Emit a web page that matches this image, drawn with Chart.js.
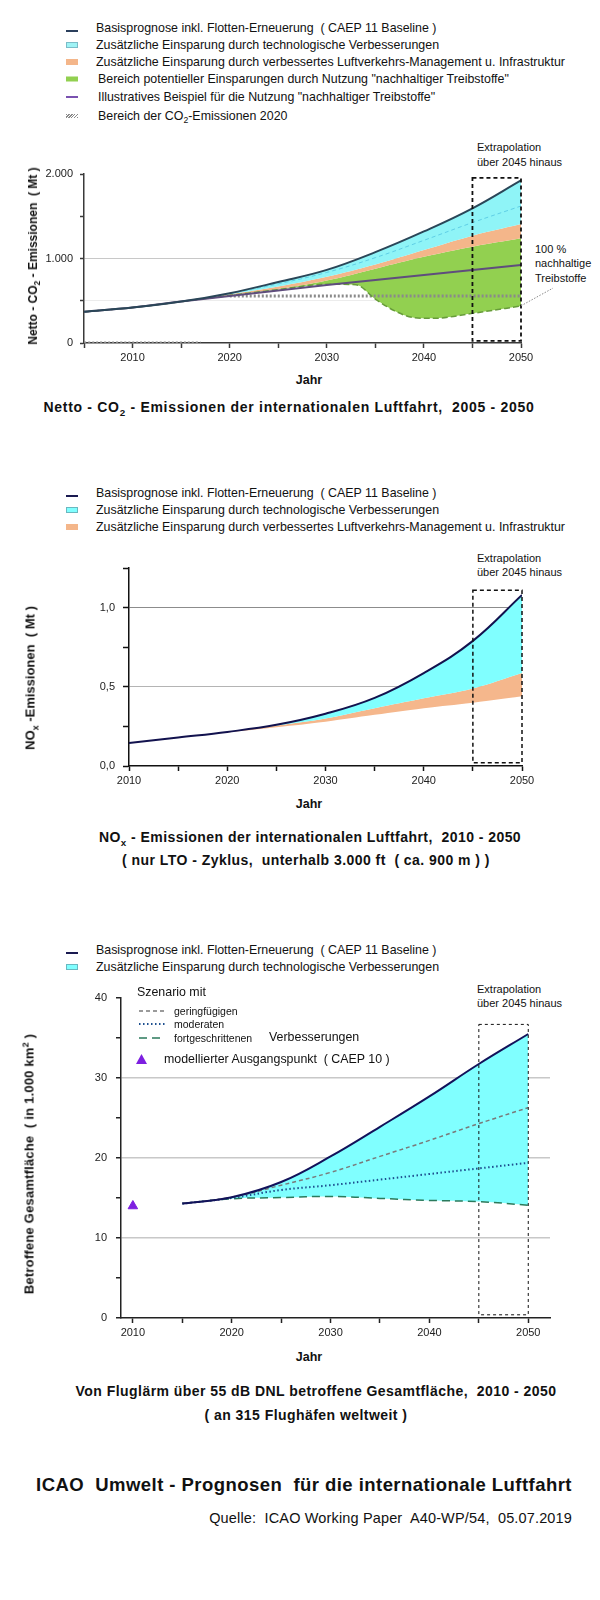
<!DOCTYPE html>
<html>
<head>
<meta charset="utf-8">
<script src="https://cdn.jsdelivr.net/npm/chart.js@4.4.1/dist/chart.umd.min.js"></script>
<style>
  body { margin: 0; width: 600px; height: 1600px; position: relative; background: #fff;
         font-family: 'Liberation Sans', Arial, sans-serif; color: #111; overflow: hidden; }
  .t { position: absolute; white-space: pre; line-height: 1; }
  .c { transform: translate(-50%, -50%); }
  .l { transform: translateY(-50%); }
  .r { transform: translate(-100%, -50%); }
  .b { font-weight: bold; }
  .leg { font-size: 12.4px; }
  .sm { font-size: 11px; }
  .ttl { font-size: 14px; font-weight: bold; letter-spacing: 0.45px; }
  .yt { font-size: 13px; font-weight: bold; transform: translate(-50%, -50%) rotate(-90deg); }
  .sym { position: absolute; width: 12px; transform: translateY(-50%); }
  canvas { position: absolute; left: 0; }
  sub, sup { font-size: 70%; line-height: 0; }
</style>
</head>
<body>

<!-- CO2 legend -->
<div class="sym" style="left:66px; top:31px; height:2px; background:#2b3f5c;"></div>
<div class="t l leg" style="left:96px; top:28px;">Basisprognose inkl. Flotten-Erneuerung  ( CAEP 11 Baseline )</div>
<div class="sym" style="left:66px; top:45px; height:6px; background:#9ff3f5; border:1px solid #7bbcc8; box-sizing:border-box;"></div>
<div class="t l leg" style="left:96px; top:45px;">Zusätzliche Einsparung durch technologische Verbesserungen</div>
<div class="sym" style="left:66px; top:62px; height:6px; background:#f4b68a;"></div>
<div class="t l leg" style="left:96px; top:62px;">Zusätzliche Einsparung durch verbessertes Luftverkehrs-Management u. Infrastruktur</div>
<div class="sym" style="left:66px; top:79px; height:5px; background:#92d050;"></div>
<div class="t l leg" style="left:98px; top:79px;">Bereich potentieller Einsparungen durch Nutzung "nachhaltiger Treibstoffe"</div>
<div class="sym" style="left:66px; top:97px; height:2px; background:#7a52b0;"></div>
<div class="t l leg" style="left:98px; top:97px;">Illustratives Beispiel für die Nutzung "nachhaltiger Treibstoffe"</div>
<div class="sym" style="left:66px; top:116px; height:4px; background:repeating-linear-gradient(135deg,#8a8a8a 0 1px,#fff 1px 2px);"></div>
<div class="t l leg" style="left:98px; top:116px;">Bereich der CO<sub>2</sub>-Emissionen 2020</div>

<div class="t l sm" style="left:477px; top:147px;">Extrapolation</div>
<div class="t l sm" style="left:477px; top:162px;">über 2045 hinaus</div>
<div class="t l sm" style="left:535px; top:249px;">100 %</div>
<div class="t l sm" style="left:535px; top:263px;">nachhaltige</div>
<div class="t l sm" style="left:535px; top:278px;">Treibstoffe</div>

<canvas id="co2Chart" width="600" height="215" style="top:150px;"></canvas>
<div class="t yt" style="left:33px; top:256px; font-size:12px;">Netto - CO<sub>2</sub> - Emissionen  ( Mt )</div>
<div class="t c b" style="left:309px; top:380px; font-size:12.5px;">Jahr</div>
<div class="t c ttl" style="left:289px; top:407px; letter-spacing:0.7px;">Netto - CO<sub>2</sub> - Emissionen der internationalen Luftfahrt,  2005 - 2050</div>

<!-- NOx legend -->
<div class="sym" style="left:66px; top:496px; height:2px; background:#1a1a50;"></div>
<div class="t l leg" style="left:96px; top:493px;">Basisprognose inkl. Flotten-Erneuerung  ( CAEP 11 Baseline )</div>
<div class="sym" style="left:66px; top:510px; height:6px; background:#80ffff; border:1px solid #6ab8c0; box-sizing:border-box;"></div>
<div class="t l leg" style="left:96px; top:510px;">Zusätzliche Einsparung durch technologische Verbesserungen</div>
<div class="sym" style="left:66px; top:527px; height:6px; background:#f4b68a;"></div>
<div class="t l leg" style="left:96px; top:527px;">Zusätzliche Einsparung durch verbessertes Luftverkehrs-Management u. Infrastruktur</div>

<div class="t l sm" style="left:477px; top:558px;">Extrapolation</div>
<div class="t l sm" style="left:477px; top:572px;">über 2045 hinaus</div>

<canvas id="noxChart" width="600" height="245" style="top:550px;"></canvas>
<div class="t yt" style="left:30px; top:678px;">NO<sub>x</sub> -Emissionen  ( Mt )</div>
<div class="t c b" style="left:309px; top:804px; font-size:12.5px;">Jahr</div>
<div class="t c ttl" style="left:310px; top:837px;">NO<sub>x</sub> - Emissionen der internationalen Luftfahrt,  2010 - 2050</div>
<div class="t c ttl" style="left:306px; top:860px;">( nur LTO - Zyklus,  unterhalb 3.000 ft  ( ca. 900 m ) )</div>

<!-- Noise legend -->
<div class="sym" style="left:66px; top:953px; height:2px; background:#1a1a50;"></div>
<div class="t l leg" style="left:96px; top:950px;">Basisprognose inkl. Flotten-Erneuerung  ( CAEP 11 Baseline )</div>
<div class="sym" style="left:66px; top:967px; height:6px; background:#80ffff; border:1px solid #6ab8c0; box-sizing:border-box;"></div>
<div class="t l leg" style="left:96px; top:967px;">Zusätzliche Einsparung durch technologische Verbesserungen</div>

<div class="t l sm" style="left:477px; top:989px;">Extrapolation</div>
<div class="t l sm" style="left:477px; top:1003px;">über 2045 hinaus</div>

<canvas id="noiseChart" width="600" height="365" style="top:980px;"></canvas>
<div class="t l leg" style="left:137px; top:992px;">Szenario mit</div>
<svg style="position:absolute; left:139px; top:1005px;" width="28" height="40">
  <line x1="0" y1="6" x2="26" y2="6" stroke="#7a7a7a" stroke-width="1.5" stroke-dasharray="4 3"/>
  <line x1="0" y1="19" x2="26" y2="19" stroke="#1d4f8f" stroke-width="2" stroke-dasharray="1.5 2.5"/>
  <line x1="0" y1="33" x2="26" y2="33" stroke="#2b7a5c" stroke-width="1.5" stroke-dasharray="8 5"/>
</svg>
<div class="t l" style="left:174px; top:1011px; font-size:10.5px;">geringfügigen</div>
<div class="t l" style="left:174px; top:1024px; font-size:10.5px;">moderaten</div>
<div class="t l" style="left:174px; top:1038px; font-size:10.5px;">fortgeschrittenen</div>
<div class="t l leg" style="left:269px; top:1037px;">Verbesserungen</div>
<svg style="position:absolute; left:135px; top:1053px;" width="13" height="12">
  <polygon points="6.5,1 12,11 1,11" fill="#7d1fe0"/>
</svg>
<div class="t l leg" style="left:164px; top:1059px;">modellierter Ausgangspunkt  ( CAEP 10 )</div>
<div class="t yt" style="left:29px; top:1164px; letter-spacing:0.2px;">Betroffene Gesamtfläche  ( in 1.000 km<sup>2</sup> )</div>
<div class="t c b" style="left:309px; top:1357px; font-size:12.5px;">Jahr</div>
<div class="t c ttl" style="left:316px; top:1391px;">Von Fluglärm über 55 dB DNL betroffene Gesamtfläche,  2010 - 2050</div>
<div class="t c ttl" style="left:306px; top:1415px;">( an 315 Flughäfen weltweit )</div>

<div class="t c b" style="left:304px; top:1485px; font-size:18.5px; letter-spacing:0.45px;">ICAO  Umwelt - Prognosen  für die internationale Luftfahrt</div>
<div class="t r" style="left:572px; top:1518px; font-size:14.5px; letter-spacing:0.15px;">Quelle:  ICAO Working Paper  A40-WP/54,  05.07.2019</div>

<script>
// CO2 (Mt)
const co2Years = [2005, 2010, 2015, 2020, 2025, 2030, 2035, 2040, 2045, 2050];
const co2Baseline = [370, 420, 490, 590, 722, 865, 1075, 1320, 1594, 1925];
const co2Tech = [370, 420, 490, 578, 670, 785, 930, 1100, 1270, 1408];
const co2Ops = [370, 420, 490, 568, 640, 740, 880, 1020, 1140, 1239];
const co2Saf = [370, 420, 490, 556, 622, 686, 745, 805, 864, 923];
const co2SafMinYears = [2005, 2010, 2015, 2020, 2025, 2030, 2033, 2035, 2037, 2039, 2041, 2045, 2050];
const co2SafMin = [370, 420, 490, 562, 632, 695, 690, 520, 380, 300, 292, 351, 438];
const co2TechDashYears = [2020, 2025, 2030, 2035, 2040, 2045, 2050];
const co2TechDash = [584, 700, 835, 1010, 1215, 1425, 1621];
const co2Level2020Years = [2020, 2050];
const co2Level2020 = [555, 555];
const co2ZeroYears = [2005, 2017];
const co2Zero = [0, 0];

// NOx (Mt)
const noxYears = [2010, 2015, 2020, 2025, 2030, 2035, 2040, 2045, 2050];
const noxBaseline = [0.145, 0.18, 0.215, 0.26, 0.33, 0.43, 0.587, 0.79, 1.08];
const noxTech = [0.145, 0.18, 0.214, 0.255, 0.30, 0.365, 0.428, 0.49, 0.587];
const noxOps = [0.145, 0.18, 0.212, 0.245, 0.28, 0.323, 0.365, 0.40, 0.44];

// Noise (1.000 km2)
const noiseYears = [2015, 2020, 2025, 2030, 2035, 2040, 2045, 2050];
const noiseBaseline = [14.3, 15.1, 17.0, 20.2, 23.9, 27.7, 31.75, 35.5];
const noiseLow = [14.3, 15.1, 16.6, 18.2, 20.2, 22.2, 24.3, 26.3];
const noiseModerate = [14.3, 15.0, 16.0, 16.6, 17.3, 18.0, 18.7, 19.4];
const noiseAdvanced = [14.3, 14.9, 15.05, 15.2, 14.95, 14.7, 14.55, 14.1];
const noiseStartYears = [2010];
const noiseStart = [14.0];

// ticks
const co2XTicks = [2005, 2010, 2015, 2020, 2025, 2030, 2035, 2040, 2045, 2050];
const noxXTicks = [2010, 2015, 2020, 2025, 2030, 2035, 2040, 2045, 2050];
const xTickLabels = [2010, 2020, 2030, 2040, 2050];
const co2YTicks = [0, 500, 1000, 1500, 2000];
const co2YLabels = { 0: '0', 1000: '1.000', 2000: '2.000' };
const noxYTicks = [0, 0.25, 0.5, 0.75, 1, 1.25];
const noxYLabels = { 0: '0,0', 0.5: '0,5', 1: '1,0' };
const noiseYTicks = [0, 5, 10, 15, 20, 25, 30, 35, 40];
const noiseYLabels = { 0: '0', 10: '10', 20: '20', 30: '30', 40: '40' };

// extrapolation boxes [x0, x1, y0, y1]
const co2Box = [2045, 2050, 24, 1953];
const noxBox = [2045, 2050, 0.02, 1.11];
const noiseBox = [2045, 2050, 0.4, 36.7];

Chart.defaults.font.family = "'Liberation Sans', Arial, sans-serif";
Chart.defaults.color = '#222';

function xy(xs, ys) {
    return xs.map((x, i) => ({ x: x, y: ys[i] }));
}

const boxPlugin = {
    id: 'extrapolationBox',
    afterDatasetsDraw(chart, args, opts) {
        const ctx = chart.ctx;
        const xs = chart.scales.x, ys = chart.scales.y;
        const b = opts.box;
        const l = xs.getPixelForValue(b[0]), r = xs.getPixelForValue(b[1]);
        const t = ys.getPixelForValue(b[3]), bt = ys.getPixelForValue(b[2]);
        ctx.save();
        ctx.strokeStyle = '#111';
        ctx.lineWidth = opts.width;
        ctx.setLineDash(opts.dash);
        ctx.strokeRect(l, t, r - l, bt - t);
        if (opts.leader) {
            // dotted pointer from the label to the 100 % line
            const p = opts.leader;
            ctx.strokeStyle = '#888';
            ctx.lineWidth = 1;
            ctx.setLineDash([1.5, 1.5]);
            ctx.beginPath();
            ctx.moveTo(xs.getPixelForValue(p[0]), ys.getPixelForValue(p[1]));
            ctx.lineTo(xs.getPixelForValue(p[2]), ys.getPixelForValue(p[3]));
            ctx.stroke();
        }
        ctx.restore();
    }
};

function chartOptions(cfg) {
    return {
        responsive: false,
        animation: false,
        events: [],
        layout: { padding: { left: 0, right: cfg.padRight, top: cfg.padTop, bottom: 0 } },
        plugins: {
            legend: { display: false },
            tooltip: { enabled: false },
            filler: { drawTime: 'beforeDatasetsDraw' },
            extrapolationBox: cfg.box
        },
        elements: {
            point: { radius: 0 },
            line: { tension: 0.4, borderCapStyle: 'butt' }
        },
        scales: {
            x: {
                type: 'linear',
                min: cfg.xMin,
                max: cfg.xMax,
                afterBuildTicks: s => { s.ticks = cfg.xTicks.map(v => ({ value: v })); },
                afterFit: s => { s.height = cfg.xHeight; },
                grid: { drawOnChartArea: false, tickLength: 5, tickColor: cfg.axisColor, tickWidth: 1.5 },
                border: { color: cfg.axisColor, width: 1.5 },
                ticks: {
                    font: { size: 11 }, padding: 3, maxRotation: 0, autoSkip: false,
                    callback: v => xTickLabels.includes(v) ? String(v) : ''
                }
            },
            y: {
                type: 'linear',
                min: 0,
                max: cfg.yMax,
                afterBuildTicks: s => { s.ticks = cfg.yTicks.map(v => ({ value: v })); },
                afterFit: s => { s.width = cfg.yWidth; },
                grid: {
                    color: c => (c.tick && cfg.grid[c.tick.value]) || 'rgba(0,0,0,0)',
                    lineWidth: cfg.gridWidth,
                    tickLength: cfg.yTickLen, tickColor: cfg.axisColor, tickWidth: 1.5
                },
                border: { color: cfg.axisColor, width: 1.5 },
                ticks: {
                    font: { size: 11 }, padding: cfg.yPad, autoSkip: false,
                    callback: v => cfg.yLabels[v] || ''
                }
            }
        }
    };
}

new Chart(document.getElementById('co2Chart'), {
    type: 'line',
    plugins: [boxPlugin],
    data: {
        datasets: [
            { data: xy(co2Years, co2Baseline), borderColor: '#2a4658', borderWidth: 2,
              fill: 2, backgroundColor: '#8ff4f7' },
            { data: xy(co2Years, co2Saf), borderColor: '#5f4d7d', borderWidth: 2, fill: false },
            { data: xy(co2Years, co2Tech), borderWidth: 0, borderColor: 'rgba(0,0,0,0)',
              fill: 3, backgroundColor: '#f4b68a' },
            { data: xy(co2Years, co2Ops), borderWidth: 0, borderColor: 'rgba(0,0,0,0)',
              fill: 4, backgroundColor: '#92d050' },
            { data: xy(co2SafMinYears, co2SafMin), borderColor: '#679c3a', borderWidth: 1.5,
              borderDash: [6, 3], fill: false, cubicInterpolationMode: 'monotone' },
            { data: xy(co2TechDashYears, co2TechDash), borderColor: '#5fcfe6', borderWidth: 1,
              borderDash: [4, 3], fill: false },
            { data: xy(co2Level2020Years, co2Level2020), borderColor: '#8a8a8a', borderWidth: 3,
              borderDash: [2, 2], fill: false },
            { data: xy(co2ZeroYears, co2Zero), borderColor: '#8a8a8a', borderWidth: 3,
              borderDash: [2, 2], fill: false }
        ]
    },
    options: chartOptions({
        padTop: 24, padRight: 79, xHeight: 22, yWidth: 84,
        xMin: 2005, xMax: 2050, xTicks: co2XTicks,
        yMax: 2000, yTicks: co2YTicks, yLabels: co2YLabels,
        grid: { 500: '#ececec', 1000: '#c8c8c8' }, gridWidth: 1,
        yTickLen: 4, yPad: 7, axisColor: '#3a3a3a',
        box: { box: co2Box, width: 1.8, dash: [4, 3], leader: [2050, 440, 2053.3, 650] }
    })
});

new Chart(document.getElementById('noxChart'), {
    type: 'line',
    plugins: [boxPlugin],
    data: {
        datasets: [
            { data: xy(noxYears, noxBaseline), borderColor: '#12124e', borderWidth: 2,
              fill: 1, backgroundColor: '#80ffff' },
            { data: xy(noxYears, noxTech), borderWidth: 0, borderColor: 'rgba(0,0,0,0)',
              fill: 2, backgroundColor: '#f5b78c' },
            { data: xy(noxYears, noxOps), borderWidth: 0, borderColor: 'rgba(0,0,0,0)', fill: false }
        ]
    },
    options: chartOptions({
        padTop: 18, padRight: 78, xHeight: 29, yWidth: 129,
        xMin: 2010, xMax: 2050, xTicks: noxXTicks,
        yMax: 1.25, yTicks: noxYTicks, yLabels: noxYLabels,
        grid: { 0.5: '#b4b4b4', 1: '#8c8c8c' }, gridWidth: 1,
        yTickLen: 6, yPad: 8, axisColor: '#111',
        box: { box: noxBox, width: 1.5, dash: [4, 3] }
    })
});

new Chart(document.getElementById('noiseChart'), {
    type: 'line',
    plugins: [boxPlugin],
    data: {
        datasets: [
            { data: xy(noiseYears, noiseBaseline), borderColor: '#12125a', borderWidth: 2,
              fill: 3, backgroundColor: '#80ffff' },
            { data: xy(noiseYears, noiseLow), borderColor: '#7a7a7a', borderWidth: 1.5,
              borderDash: [4, 3], fill: false },
            { data: xy(noiseYears, noiseModerate), borderColor: '#1d4f8f', borderWidth: 2,
              borderDash: [1.5, 2.5], fill: false },
            { data: xy(noiseYears, noiseAdvanced), borderColor: '#2b7a5c', borderWidth: 1.5,
              borderDash: [8, 5], fill: false },
            { data: xy(noiseStartYears, noiseStart), showLine: false, pointStyle: 'triangle',
              pointRadius: 5.5, backgroundColor: '#7d1fe0', borderColor: '#7d1fe0' }
        ]
    },
    options: chartOptions({
        padTop: 18, padRight: 50, xHeight: 27, yWidth: 121,
        xMin: 2008.8, xMax: 2052.2, xTicks: noxXTicks,
        yMax: 40, yTicks: noiseYTicks, yLabels: noiseYLabels,
        grid: { 10: '#c8c8c8', 20: '#c8c8c8', 30: '#c8c8c8' }, gridWidth: 1.5,
        yTickLen: 5, yPad: 9, axisColor: '#222',
        box: { box: noiseBox, width: 1, dash: [3, 3] }
    })
});
</script>
</body>
</html>
